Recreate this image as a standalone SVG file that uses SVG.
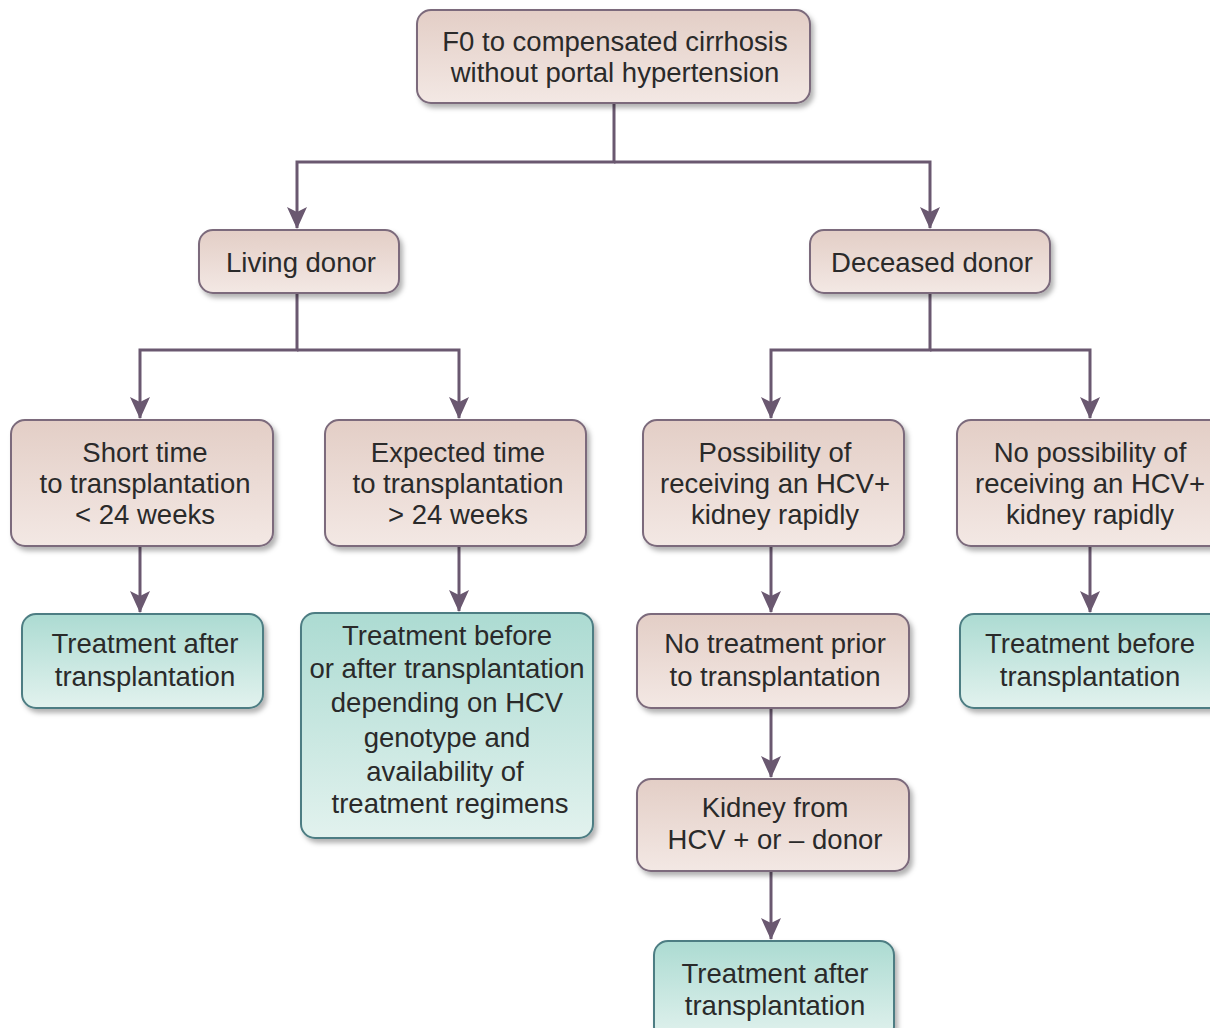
<svg xmlns="http://www.w3.org/2000/svg" width="1210" height="1028" viewBox="0 0 1210 1028">
<defs>
<linearGradient id="gp" x1="0" y1="0" x2="0" y2="1"><stop offset="0" stop-color="#e3cec6"/><stop offset="1" stop-color="#f3e8e4"/></linearGradient>
<linearGradient id="gt" x1="0" y1="0" x2="0" y2="1"><stop offset="0" stop-color="#acdbd2"/><stop offset="1" stop-color="#e2f2ee"/></linearGradient>
<filter id="sh" x="-10%" y="-10%" width="130%" height="130%"><feDropShadow dx="3" dy="4" stdDeviation="2.5" flood-color="#000" flood-opacity="0.3"/></filter>
<marker id="arr" markerWidth="22" markerHeight="24" viewBox="0 0 22 24" refX="21" refY="11" orient="auto" markerUnits="userSpaceOnUse">
<path d="M0,1 L5,11 L0,21 L22,11 Z" fill="#6a5870"/>
</marker>
</defs>
<style>
.p{fill:url(#gp);stroke:#7b6a7b;stroke-width:2;filter:url(#sh)}
.t{fill:url(#gt);stroke:#4d7d83;stroke-width:2;filter:url(#sh)}
text{font-family:"Liberation Sans",Arial,sans-serif;font-size:27.5px;fill:#2a2a2a;text-anchor:middle}
.c{fill:none;stroke:#6a5870;stroke-width:3}
</style>
<rect width="1210" height="1028" fill="#fff"/>
<g id="connectors">
<path class="c" d="M614,103 V162 H297 V228" marker-end="url(#arr)"/>
<path class="c" d="M614,162 H930 V228" marker-end="url(#arr)"/>
<path class="c" d="M297,293 V350 H140 V418" marker-end="url(#arr)"/>
<path class="c" d="M297,350 H459 V418" marker-end="url(#arr)"/>
<path class="c" d="M930,293 V350 H771 V418" marker-end="url(#arr)"/>
<path class="c" d="M930,350 H1090 V418" marker-end="url(#arr)"/>
<path class="c" d="M140,546 V612" marker-end="url(#arr)"/>
<path class="c" d="M459,546 V611" marker-end="url(#arr)"/>
<path class="c" d="M771,546 V612" marker-end="url(#arr)"/>
<path class="c" d="M1090,546 V612" marker-end="url(#arr)"/>
<path class="c" d="M771,708 V777" marker-end="url(#arr)"/>
<path class="c" d="M771,871 V939" marker-end="url(#arr)"/>
</g>
<g id="n-top"><rect class="p" x="417" y="10" width="393" height="93" rx="14"/>
<text x="615" y="51">F0 to compensated cirrhosis</text><text x="615" y="82">without portal hypertension</text></g>
<g id="n-living"><rect class="p" x="199" y="230" width="200" height="63" rx="14"/>
<text x="301" y="272">Living donor</text></g>
<g id="n-deceased"><rect class="p" x="810" y="230" width="240" height="63" rx="14"/>
<text x="932" y="272">Deceased donor</text></g>
<g id="n-short"><rect class="p" x="11" y="420" width="262" height="126" rx="14"/>
<text x="145" y="462">Short time</text><text x="145" y="493">to transplantation</text><text x="145" y="524">&lt; 24 weeks</text></g>
<g id="n-expected"><rect class="p" x="325" y="420" width="261" height="126" rx="14"/>
<text x="458" y="462">Expected time</text><text x="458" y="493">to transplantation</text><text x="458" y="524">&gt; 24 weeks</text></g>
<g id="n-possibility"><rect class="p" x="643" y="420" width="261" height="126" rx="14"/>
<text x="775" y="462">Possibility of</text><text x="775" y="493">receiving an HCV+</text><text x="775" y="524">kidney rapidly</text></g>
<g id="n-nopossibility"><rect class="p" x="957" y="420" width="270" height="126" rx="14"/>
<text x="1090" y="462">No possibility of</text><text x="1090" y="493">receiving an HCV+</text><text x="1090" y="524">kidney rapidly</text></g>
<g id="n-after1"><rect class="t" x="22" y="614" width="241" height="94" rx="14"/>
<text x="145" y="653">Treatment after</text><text x="145" y="686">transplantation</text></g>
<g id="n-beforeafter"><rect class="t" x="301" y="613" width="292" height="225" rx="14"/>
<text x="447" y="645">Treatment before</text><text x="447" y="678">or after transplantation</text><text x="447" y="712">depending on HCV</text><text x="447" y="747">genotype and</text><text x="445" y="781">availability of</text><text x="450" y="813">treatment regimens</text></g>
<g id="n-notreat"><rect class="p" x="637" y="614" width="272" height="94" rx="14"/>
<text x="775" y="653">No treatment prior</text><text x="775" y="686">to transplantation</text></g>
<g id="n-before"><rect class="t" x="960" y="614" width="265" height="94" rx="14"/>
<text x="1090" y="653">Treatment before</text><text x="1090" y="686">transplantation</text></g>
<g id="n-kidney"><rect class="p" x="637" y="779" width="272" height="92" rx="14"/>
<text x="775" y="817">Kidney from</text><text x="775" y="849">HCV + or – donor</text></g>
<g id="n-after2"><rect class="t" x="654" y="941" width="240" height="100" rx="14"/>
<text x="775" y="983">Treatment after</text><text x="775" y="1015">transplantation</text></g>
</svg>
